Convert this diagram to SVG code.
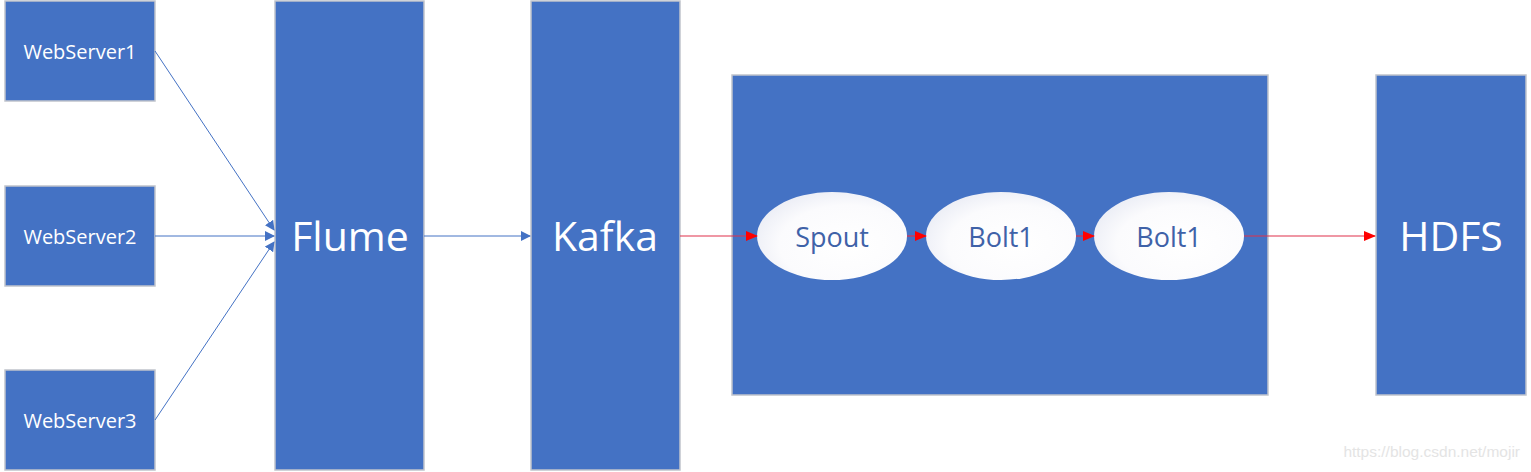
<svg xmlns="http://www.w3.org/2000/svg" width="1531" height="472" viewBox="0 0 1531 472">
<defs>
<style>
.box{fill:#4472c4;stroke:#c0c4cc;stroke-width:1.5}
.lbl{fill:#ffffff;font-family:"Open Sans","Noto Sans",sans-serif;text-anchor:middle;dominant-baseline:central}
.sm{font-size:20px}
.big{font-size:41px}
.ell{fill:url(#eg);stroke:none}
.etx{fill:#3f62a8;font-family:"Open Sans","Noto Sans",sans-serif;font-size:27px;text-anchor:middle;dominant-baseline:central}
.blue{stroke:#4472c4;stroke-width:1;fill:none}
.red{stroke:#e0304a;stroke-width:1.2;fill:none}
</style>
<radialGradient id="eg" cx="0.6" cy="0.6" r="0.75">
<stop offset="0" stop-color="#ffffff"/>
<stop offset="0.6" stop-color="#fbfbfd"/>
<stop offset="1" stop-color="#e4e7f2"/>
</radialGradient>
<marker id="ab" markerWidth="10" markerHeight="10" refX="9" refY="5" orient="auto" markerUnits="userSpaceOnUse">
<path d="M0,0 L10,5 L0,10 z" fill="#4472c4"/>
</marker>
<marker id="ar" markerWidth="12" markerHeight="10" refX="11" refY="5" orient="auto" markerUnits="userSpaceOnUse">
<path d="M0,0 L12,5 L0,10 z" fill="#ff0000"/>
</marker>
</defs>
<rect width="1531" height="472" fill="#ffffff"/>
<g id="ws1"><rect class="box" x="5" y="1" width="150" height="100"/><text class="lbl sm" x="80" y="51">WebServer1</text></g>
<g id="ws2"><rect class="box" x="5" y="186" width="150" height="100"/><text class="lbl sm" x="80" y="236">WebServer2</text></g>
<g id="ws3"><rect class="box" x="5" y="370" width="150" height="100"/><text class="lbl sm" x="80" y="420">WebServer3</text></g>
<g id="flume"><rect class="box" x="275" y="1" width="149" height="469"/><text class="lbl big" x="350" y="235">Flume</text></g>
<g id="kafka"><rect class="box" x="531" y="1" width="149" height="469"/><text class="lbl big" x="605" y="235">Kafka</text></g>
<g id="storm"><rect class="box" x="732" y="75" width="536" height="320"/></g>
<g id="hdfs"><rect class="box" x="1376" y="75" width="150" height="320"/><text class="lbl big" x="1451" y="235">HDFS</text></g>
<g id="spout"><ellipse class="ell" cx="832" cy="236" rx="75" ry="44"/><text class="etx" x="832" y="236">Spout</text></g>
<g id="bolt1a"><ellipse class="ell" cx="1001" cy="236" rx="75" ry="44"/><text class="etx" x="1001" y="236">Bolt1</text></g>
<g id="bolt1b"><ellipse class="ell" cx="1169" cy="236" rx="75" ry="44"/><text class="etx" x="1169" y="236">Bolt1</text></g>
<g id="connectors">
<line class="blue" x1="155" y1="51" x2="274" y2="230" marker-end="url(#ab)"/>
<line class="blue" x1="155" y1="236" x2="274" y2="236" marker-end="url(#ab)"/>
<line class="blue" x1="155" y1="420" x2="274" y2="242" marker-end="url(#ab)"/>
<line class="blue" x1="424" y1="236" x2="530" y2="236" marker-end="url(#ab)"/>
<line class="red" x1="680" y1="236" x2="757" y2="236" marker-end="url(#ar)"/>
<line class="red" x1="907" y1="236" x2="926" y2="236" marker-end="url(#ar)"/>
<line class="red" x1="1076" y1="236" x2="1094" y2="236" marker-end="url(#ar)"/>
<line class="red" x1="1244" y1="236" x2="1375" y2="236" marker-end="url(#ar)"/>
</g>
<text x="1520" y="457" font-family="Liberation Sans, Arial, sans-serif" font-size="15.5" fill="#e4e4e4" text-anchor="end">https://blog.csdn.net/mojir</text>
</svg>
